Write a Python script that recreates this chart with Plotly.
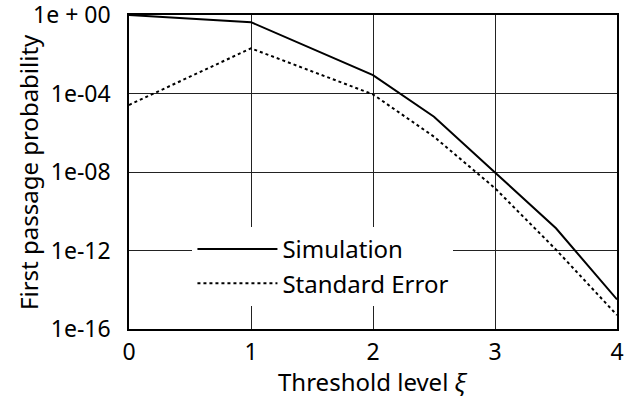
import plotly.graph_objects as go

xi = [0, 1, 2, 2.5, 3, 3.5, 4]
simulation = [1.0, 0.43, 8.7e-4, 6.6e-6, 9.5e-9, 1.35e-11, 3.2e-15]
std_error = [2.6e-5, 0.02, 9.0e-5, 6.3e-7, 1.5e-9, 1.1e-12, 5.1e-16]

ytick_vals = [1e0, 1e-4, 1e-8, 1e-12, 1e-16]
ytick_text = ["1e + 00", "1e-04", "1e-08", "1e-12", "1e-16"]
xtick_vals = [0, 1, 2, 3, 4]

FONT = "Noto Sans"

fig = go.Figure()
fig.add_trace(go.Scatter(x=xi, y=simulation, mode="lines", name="Simulation",
                         line=dict(color="black", width=2, dash="solid")))
fig.add_trace(go.Scatter(x=xi, y=std_error, mode="lines", name="Standard Error",
                         line=dict(color="black", width=2, dash="dot")))

fig.update_layout(
    width=633, height=398,
    margin=dict(l=129, r=16, t=15, b=69),
    paper_bgcolor="white", plot_bgcolor="white",
    font=dict(family=FONT, size=23, color="black"),
    legend=dict(x=0.13, y=0.325, xanchor="left", yanchor="top",
                bgcolor="white", borderwidth=0, itemwidth=80,
                font=dict(family=FONT, size=24), tracegroupgap=0),
    annotations=[
        dict(text="Threshold level <i>ξ</i>", xref="paper", yref="paper", x=0.5, y=0,
             xanchor="center", yanchor="middle", yshift=-52, showarrow=False,
             font=dict(size=24)),
        dict(text="First passage probability", xref="paper", yref="paper", x=0, y=0.5,
             xanchor="center", yanchor="middle", xshift=-101, textangle=-90,
             showarrow=False, font=dict(size=24)),
    ],
)
fig.update_xaxes(range=[0, 4], tickvals=xtick_vals, showgrid=True, gridcolor="#222",
                 gridwidth=1, showline=True, linecolor="black", linewidth=1.5, mirror=True,
                 ticks="", ticklabelstandoff=2, zeroline=False, ticklabeloverflow="allow",
                 automargin=False)
fig.update_yaxes(type="log", range=[-16, 0], tickvals=ytick_vals, ticktext=ytick_text,
                 showgrid=True, gridcolor="#222", gridwidth=1, showline=True,
                 linecolor="black", linewidth=1.5, mirror=True, ticks="",
                 ticklabelstandoff=12, zeroline=False, ticklabeloverflow="allow",
                 automargin=False)

fig.write_html("out.html")
